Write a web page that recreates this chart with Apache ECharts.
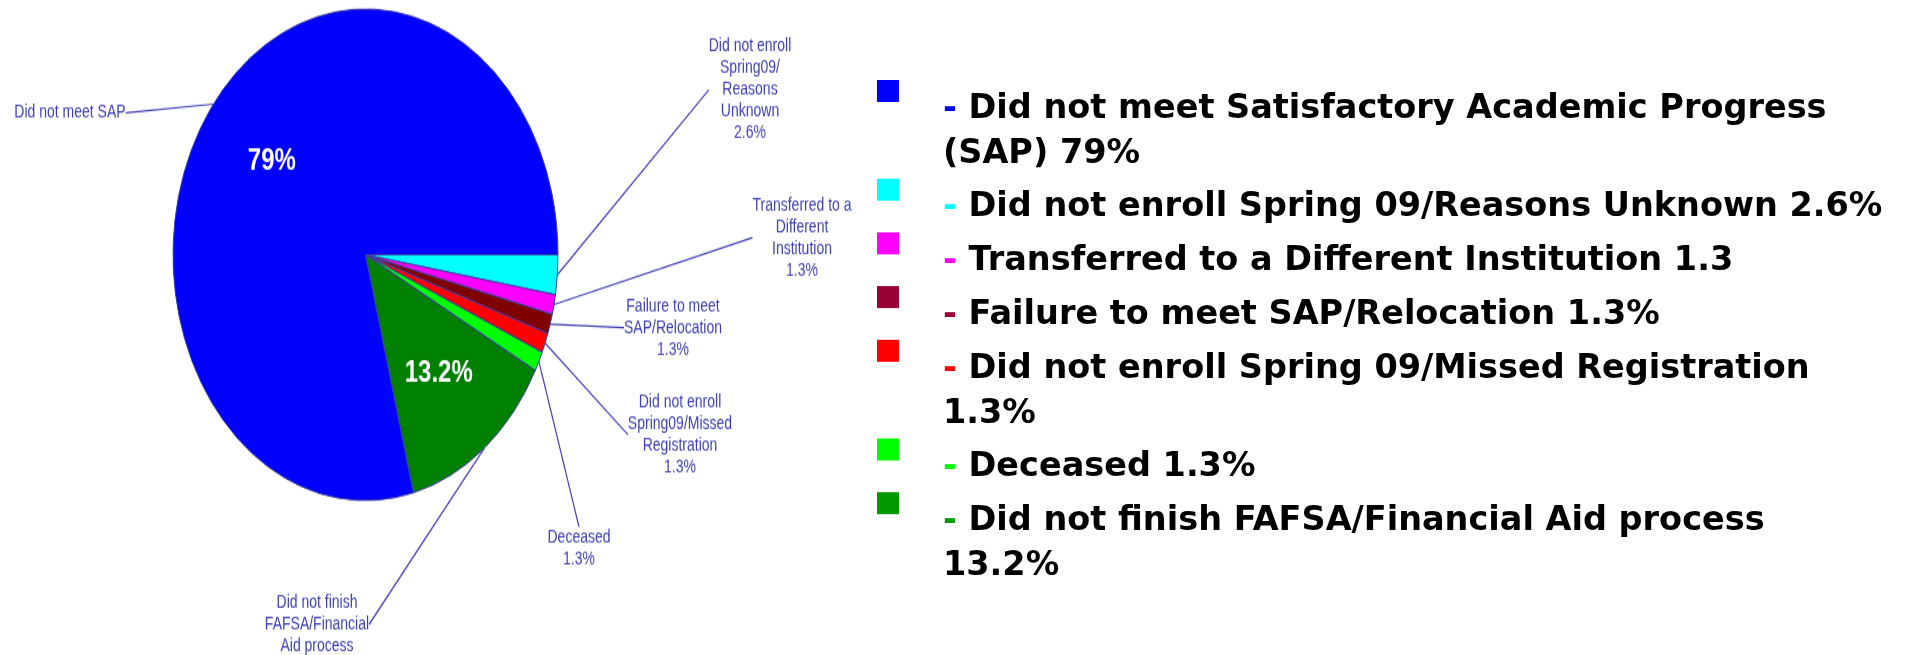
<!DOCTYPE html>
<html>
<head>
<meta charset="utf-8">
<script src="https://cdn.jsdelivr.net/npm/echarts@6/dist/echarts.min.js"></script>
<style>
html,body{margin:0;padding:0;background:#ffffff;overflow:hidden;width:1921px;height:655px;}
#legendChart{position:absolute;left:0;top:0;width:1921px;height:655px;}
#pieChart{position:absolute;left:0;top:0;width:1921px;height:513px;transform:scaleY(1.2768);transform-origin:0 0;}
</style>
</head>
<body>
<div id="legendChart"></div>
<div id="pieChart"></div>
<script>
// ---- data (slice order: clockwise from 3 o'clock) ----
const sliceNames = [
  'Did not enroll\nSpring09/\nReasons\nUnknown',
  'Transferred to a\nDifferent\nInstitution',
  'Failure to meet\nSAP/Relocation',
  'Did not enroll\nSpring09/Missed\nRegistration',
  'Deceased',
  'Did not finish\nFAFSA/Financial\nAid process',
  'Did not meet SAP'
];
const sliceValues = [2.6, 1.3, 1.3, 1.3, 1.3, 13.2, 79];
const sliceColors = ['#00FFFF', '#FF00FF', '#800000', '#FF0000', '#00FF00', '#008000', '#0000FF'];
const valueInside = [false, false, false, false, false, true, true];

// ---- legend texts (legend order) ----
const legendTexts = [
  'Did not meet Satisfactory Academic Progress\n(SAP) 79%',
  'Did not enroll Spring 09/Reasons Unknown 2.6%',
  'Transferred to a Different Institution 1.3',
  'Failure to meet SAP/Relocation 1.3%',
  'Did not enroll Spring 09/Missed Registration\n1.3%',
  'Deceased 1.3%',
  'Did not finish FAFSA/Financial Aid process\n13.2%'
];
const legendColors = ['#0000FF', '#00FFFF', '#FF00FF', '#990033', '#FF0000', '#00FF00', '#009900'];

// ---- layout (label anchor points in the pie chart's own pixel space) ----
const labelAt = [[750, 70.4], [802, 186.2], [673, 256.7], [680, 340.4], [579, 429.6], [317, 489], [70, 88.4]];

const fmt = v => (Number.isInteger(v) ? String(v) : v.toFixed(1)) + '%';
const labelBlue = '#3E3EB8';

const pieData = sliceValues.map((v, i) => ({ value: v, name: sliceNames[i] }));

const pie = echarts.init(document.getElementById('pieChart'), null, { renderer: 'canvas' });
pie.setOption({
  animation: false,
  color: sliceColors,
  series: [
    {
      type: 'pie',
      center: [365.5, 199.5],
      radius: 192.5,
      startAngle: 0,
      clockwise: true,
      avoidLabelOverlap: false,
      silent: true,
      data: pieData,
      itemStyle: { borderColor: '#3C3CA0', borderWidth: 1 },
      label: {
        show: true,
        position: 'outside',
        color: labelBlue,
        fontFamily: 'Liberation Sans, Arial, sans-serif',
        fontSize: 14,
        lineHeight: 17,
        align: 'center',
        formatter: p => valueInside[p.dataIndex] ? p.name : p.name + '\n' + fmt(p.value)
      },
      labelLine: {
        show: true,
        length: 10,
        length2: 0,
        smooth: false,
        lineStyle: { color: labelBlue, width: 1.2 }
      },
      labelLayout: p => {
        const a = labelAt[p.dataIndex];
        return { x: a[0], y: a[1], align: 'center', verticalAlign: 'middle' };
      }
    },
    {
      type: 'pie',
      center: [365.5, 199.5],
      radius: 231,
      startAngle: 0,
      clockwise: true,
      avoidLabelOverlap: false,
      silent: true,
      z: 5,
      data: pieData,
      itemStyle: { color: 'rgba(0,0,0,0)', borderWidth: 0 },
      label: {
        show: true,
        position: 'inside',
        color: '#FFFFFF',
        fontFamily: 'Liberation Sans, Arial, sans-serif',
        fontWeight: 'bold',
        fontSize: 24,
        formatter: p => valueInside[p.dataIndex] ? fmt(p.value) : ''
      },
      labelLine: { show: false }
    }
  ]
});

// ---- legend ----
const legendFont = 'bold 33.5px "DejaVu Sans", Verdana, sans-serif';
const legendGraphics = [];
let legendTop = 80;
legendTexts.forEach((t, i) => {
  legendGraphics.push({
    type: 'rect',
    shape: { x: 877, y: legendTop, width: 22, height: 22 },
    style: { fill: legendColors[i] }
  });
  legendGraphics.push({
    type: 'text',
    x: 943,
    y: legendTop + 6.5,
    style: {
      text: '{d|-} ' + t,
      font: legendFont,
      fill: '#000000',
      lineHeight: 45,
      verticalAlign: 'top',
      rich: { d: { fill: legendColors[i], font: legendFont, lineHeight: 45 } }
    }
  });
  legendTop += 53.7 + 45 * (t.split('\n').length - 1);
});
const legendChart = echarts.init(document.getElementById('legendChart'), null, { renderer: 'canvas' });
legendChart.setOption({ animation: false, graphic: legendGraphics });
</script>
</body>
</html>
